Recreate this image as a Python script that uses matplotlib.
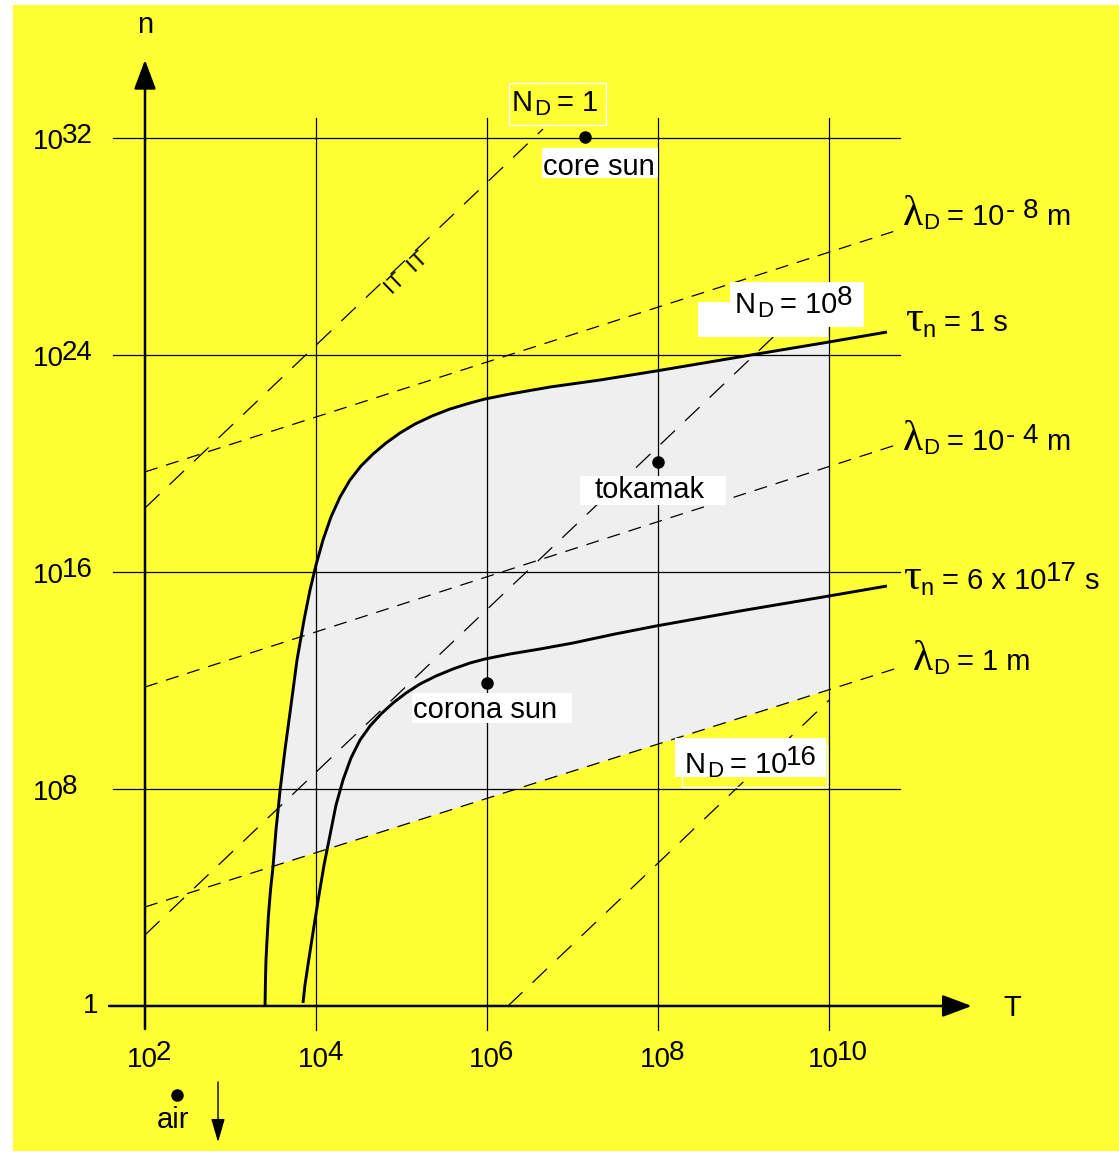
import numpy as np
import matplotlib
matplotlib.use('Agg')
import matplotlib.pyplot as plt
from matplotlib.patches import Rectangle

W, H = 1119, 1152
plt.rcParams['lines.scale_dashes'] = False
SANS = ['Liberation Sans', 'DejaVu Sans']
SERIF = ['Liberation Serif', 'DejaVu Serif']
YEL = '#FFFF33'
GREY = '#EFEFEF'

# ---------------- data (log10 exponents) ----------------
x_ticks = [2, 4, 6, 8, 10]          # log10 T
y_ticks = [0, 8, 16, 24, 32]        # log10 n

# Debye-length lines  lambda_D = 1e-8, 1e-4, 1 m
lam_logT = [2.0, 10.8]
lam_logn = [[19.69, 28.6], [11.76, 20.7], [3.65, 12.46]]

# Debye-number lines N_D = 1, 1e8, 1e16
nd_logT = [[2.0, 6.655], [2.0, 9.55], [6.245, 10.0]]
nd_logn = [[18.36, 32.33], [2.62, 25.27], [0.0, 11.27]]

# tau_n = 1 s
tau1_logT = [3.404, 3.409, 3.415, 3.427, 3.444, 3.468, 3.497, 3.532, 3.579,
             3.637, 3.708, 3.778, 3.860, 3.930, 4.000, 4.082, 4.175, 4.281,
             4.398, 4.526, 4.667, 4.819, 4.982, 5.158, 5.357, 5.567, 5.801,
             5.977, 6.269, 6.737, 7.322, 7.977, 9.158, 10.0, 10.678]
tau1_logn = [0.000, 0.959, 1.696, 2.433, 3.355, 4.276, 5.124, 6.488, 7.926,
             9.438, 11.097, 12.756, 14.230, 15.336, 16.258, 17.180, 18.028, 18.765,
             19.392, 19.908, 20.350, 20.756, 21.124, 21.456, 21.751, 22.009, 22.230,
             22.378, 22.562, 22.820, 23.078, 23.410, 24.037, 24.479, 24.848]

# tau_n = 6 x 10^17 s
tau2_logT = [3.848, 3.871, 3.906, 3.942, 3.988, 4.035, 4.094, 4.164, 4.234,
             4.316, 4.409, 4.515, 4.632, 4.760, 4.901, 5.053, 5.216, 5.404,
             5.602, 5.801, 5.977, 6.269, 6.620, 7.006, 7.497, 7.977, 8.959,
             10.0, 10.678]
tau2_logn = [0.111, 0.774, 1.512, 2.249, 3.171, 4.092, 5.198, 6.304, 7.410,
             8.332, 9.143, 9.806, 10.323, 10.765, 11.171, 11.539, 11.871, 12.166,
             12.424, 12.645, 12.793, 12.977, 13.161, 13.382, 13.714, 14.009, 14.562,
             15.115, 15.484]

# example plasmas
pt_names = ['core sun', 'tokamak', 'corona sun', 'air']
pt_logT = [7.146, 8.0, 6.0, 2.374]
pt_logn = [32.04, 20.05, 11.9, -3.28]

# ---------------- figure ----------------
fig = plt.figure(figsize=(W / 100, H / 100), dpi=100, facecolor='white')
ax = fig.add_axes([0, 0, 1, 1])
ax.set_xscale('log')
ax.set_yscale('log')
ax.set_xlim(10 ** 0.304, 10 ** 13.392)
ax.set_ylim(10 ** -5.383, 10 ** 37.088)
ax.axis('off')

P = lambda a: np.power(10.0, np.asarray(a, dtype=float))

# yellow background panel
ax.add_patch(Rectangle((13 / W, 1 / H), 1 - 13 / W, 1146 / H, transform=fig.transFigure,
                       facecolor=YEL, edgecolor='none', zorder=0))

# grey region: below tau=1s, above lambda_D=1m, left of T=1e10
t1x = np.array(tau1_logT)
t1y = np.array(tau1_logn)
sel = (t1x >= 3.49) & (t1x <= 10.0)
lam1_at = lambda lt: np.interp(lt, lam_logT, lam_logn[2])
gx = list(t1x[sel]) + [10.0, t1x[sel][0]]
gy = list(t1y[sel]) + [lam1_at(10.0), lam1_at(t1x[sel][0])]
ax.fill(P(gx), P(gy), color=GREY, lw=0, zorder=1)

# grid lines
for e in x_ticks[1:]:
    ax.plot(P([e, e]), P([-0.885, 32.74]), color='k', lw=0.9, zorder=2)
for e in y_ticks[1:]:
    ax.plot(P([1.626, 10.83]), P([e, e]), color='k', lw=0.9, zorder=2)

# axes with arrows
arrow_kw = dict(arrowstyle='-|>,head_length=0.4,head_width=0.15', lw=1.8, color='k',
                mutation_scale=45, shrinkA=0, shrinkB=0)
ax.annotate('', xy=(P(2), P(34.88)), xytext=(P(2), P(-0.85)), arrowprops=arrow_kw, zorder=4)
ax.annotate('', xy=(P(11.67), P(0)), xytext=(P(1.579), P(0)), arrowprops=arrow_kw, zorder=4)

# lambda_D lines
for ln in lam_logn:
    ax.plot(P(lam_logT), P(ln), color='k', lw=0.9, ls=(0, (9.4, 6.5)), zorder=3)
# N_D lines
for lx, ly in zip(nd_logT, nd_logn):
    ax.plot(P(lx), P(ly), color='k', lw=0.9, ls=(0, (14.4, 10.0)), zorder=3)

# tau curves
ax.plot(P(tau1_logT), P(tau1_logn), color='k', lw=2.1, zorder=4,
        solid_capstyle='butt', solid_joinstyle='round')
ax.plot(P(tau2_logT), P(tau2_logn), color='k', lw=2.1, zorder=4,
        solid_capstyle='butt', solid_joinstyle='round')

# small marks on the N_D = 1 line
p0 = ax.transData.transform((P(nd_logT[0][0]), P(nd_logn[0][0])))
p1 = ax.transData.transform((P(nd_logT[0][1]), P(nd_logn[0][1])))
ang = np.degrees(np.arctan2(p1[1] - p0[1], p1[0] - p0[0]))
mt = 4.98
ax.text(P(mt), P(np.interp(mt, nd_logT[0], nd_logn[0])), 'IT  IT', rotation=ang,
        rotation_mode='anchor', ha='center', va='top', fontsize=16, family=SANS,
        fontweight='light', color='k', zorder=5)

# white label boxes (pixel layout)
def box(x0, y0, x1, y1, fill=True, z=5):
    ax.add_patch(Rectangle((x0 / W, 1 - y1 / H), (x1 - x0) / W, (y1 - y0) / H,
                           transform=fig.transFigure, facecolor='white' if fill else 'none',
                           edgecolor='none' if fill else 'white', lw=1.0, zorder=z))

box(542, 148, 658, 178)
box(580, 476, 726, 505)
box(412, 693, 572, 723)
box(698, 302, 828, 337)
box(730, 282, 864, 327)
box(675, 738, 826, 777)
box(509, 83, 606, 125, fill=False)
box(682, 745, 827, 787, fill=False)

# points
ax.plot(P(pt_logT), P(pt_logn), 'o', ms=8, color='k', ls='none', zorder=8)

# air arrow
ax.annotate('', xy=(P(2.854), P(-5.02)), xytext=(P(2.854), P(-2.80)),
            arrowprops=dict(arrowstyle='-|>,head_length=0.48,head_width=0.14', lw=1.0,
                            color='k', mutation_scale=30, shrinkA=0, shrinkB=0), zorder=4)

# ---------------- rich text helper ----------------
def rich(xp, yp, parts, z=7):
    prev = None
    for txt, dx, dy, size, fam in parts:
        kw = dict(textcoords='offset pixels', xytext=(dx, dy), ha='left', va='baseline',
                  fontsize=size, family=fam, color='k', zorder=z, annotation_clip=False)
        if prev is None:
            a = ax.annotate(txt, xy=(xp / W, 1 - yp / H), xycoords='figure fraction', **kw)
        else:
            a = ax.annotate(txt, xy=(1, 1 - yp / H), xycoords=(prev, 'figure fraction'), **kw)
        prev = a

FS = 21
# tick labels
for e in x_ticks:
    tx, ty = ax.transData.transform((P(e), P(0)))
    off = 21 if e >= 10 else 18
    rich(tx - off, 1067, [('10', 0, 0, 20, SANS), (str(e), -2, 7, 20, SANS)])
for e in y_ticks:
    tx, ty = ax.transData.transform((P(2), P(e)))
    yp = H - ty
    if e == 0:
        rich(83, yp + 7, [('1', 0, 0, 20, SANS)])
    else:
        rich(33, yp + 11, [('10', 0, 0, 20, SANS), (str(e), -2, 6, 20, SANS)])

# axis names
rich(137, 33, [('n', 0, 0, FS, SANS)])
rich(1003, 1016, [('T', 0, 0, FS, SANS)])

# point labels
rich(543, 175, [('core sun', 0, 0, FS, SANS)])
rich(595, 498, [('tokamak', 0, 0, FS, SANS)])
rich(413, 718, [('corona sun', 0, 0, FS, SANS)])
rich(157, 1128, [('air', 0, 0, FS, SANS)])

# N_D labels
rich(512, 111, [('N', 0, 0, FS, SANS), ('D', 1, -4, 16, SANS), ('= 1', 7, 0, FS, SANS)])
rich(735, 313, [('N', 0, 0, FS, SANS), ('D', 1, -4, 16, SANS), ('= 10', 7, 0, FS, SANS),
                ('8', -1, 8, 20, SANS)])
rich(685, 773, [('N', 0, 0, FS, SANS), ('D', 1, -4, 16, SANS), ('= 10', 7, 0, FS, SANS),
                ('16', -1, 8, 20, SANS)])

# lambda_D and tau labels
LAM = 30
TAU = 32
rich(903, 225, [('\u03bb', 0, 0, LAM, SERIF), ('D', 0, -4, 16, SANS), ('= 10', 8, 0, FS, SANS),
                ('- 8', 1, 7, 20, SANS), ('m', 8, 0, FS, SANS)])
rich(903, 450, [('\u03bb', 0, 0, LAM, SERIF), ('D', 0, -4, 16, SANS), ('= 10', 8, 0, FS, SANS),
                ('- 4', 1, 7, 20, SANS), ('m', 8, 0, FS, SANS)])
rich(913, 670, [('\u03bb', 0, 0, LAM, SERIF), ('D', 0, -4, 16, SANS), ('= 1 m', 8, 0, FS, SANS)])
rich(905, 331, [('\u03c4', 0, 0, TAU, SERIF), ('n', 0, -6, 17, SANS), ('= 1 s', 8, 0, FS, SANS)])
rich(903, 589, [('\u03c4', 0, 0, TAU, SERIF), ('n', 0, -6, 17, SANS), ('= 6 x 10', 8, 0, FS, SANS),
                ('17', -1, 8, 20, SANS), ('s', 8, 0, FS, SANS)])

fig.savefig('out.png', dpi=100, facecolor='white')
